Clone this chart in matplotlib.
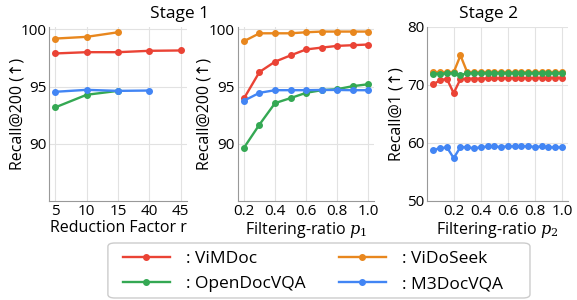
import matplotlib
matplotlib.use('Agg')
import matplotlib.pyplot as plt
from matplotlib.patches import FancyBboxPatch

plt.rcParams['font.family'] = ['Open Sans', 'DejaVu Sans']
plt.rcParams['mathtext.fontset'] = 'dejavuserif'

# panel 1: reduction factor r
r_labels = ['5', '10', '15', '40', '45']
r_vimdoc = [97.89, 98.0, 98.0, 98.12, 98.15]
r_vidoseek = [99.19, 99.34, 99.74]
r_opendoc = [93.18, 94.28, 94.62]
r_m3doc = [94.54, 94.71, 94.62, 94.65]

# panel 2: filtering ratio p1
p1 = [0.2, 0.3, 0.4, 0.5, 0.6, 0.7, 0.8, 0.9, 1.0]
p1_vimdoc = [93.96, 96.27, 97.17, 97.72, 98.24, 98.4, 98.55, 98.61, 98.67]
p1_vidoseek = [98.96, 99.65, 99.65, 99.65, 99.74, 99.8, 99.8, 99.8, 99.8]
p1_opendoc = [89.65, 91.68, 93.55, 93.99, 94.45, 94.68, 94.77, 95.03, 95.2]
p1_m3doc = [93.76, 94.45, 94.68, 94.68, 94.68, 94.7, 94.7, 94.68, 94.68]

# panel 3: filtering ratio p2
p2 = [0.05, 0.1, 0.15, 0.2, 0.25, 0.3, 0.35, 0.4, 0.45, 0.5,
      0.55, 0.6, 0.65, 0.7, 0.75, 0.8, 0.85, 0.9, 0.95, 1.0]
p2_vimdoc = [70.1, 70.86, 71.03, 68.6, 71.03, 71.1, 71.1, 71.1, 71.15, 71.15,
             71.15, 71.2, 71.2, 71.2, 71.2, 71.2, 71.25, 71.25, 71.25, 71.26]
p2_vidoseek = [72.2, 72.2, 72.2, 72.2, 75.1, 72.2, 72.2, 72.2, 72.2, 72.2,
               72.2, 72.2, 72.2, 72.2, 72.2, 72.2, 72.2, 72.2, 72.2, 72.2]
p2_opendoc = [71.95, 71.95, 72.0, 72.05, 71.7, 72.05, 72.05, 72.05, 72.05, 72.05,
              72.05, 72.05, 72.05, 72.05, 72.05, 72.05, 72.05, 72.05, 72.05, 72.05]
p2_m3doc = [58.85, 59.08, 59.25, 57.4, 59.3, 59.25, 59.1, 59.25, 59.4, 59.4,
            59.3, 59.45, 59.4, 59.4, 59.45, 59.3, 59.4, 59.25, 59.25, 59.25]

names = ['ViMDoc', 'OpenDocVQA', 'ViDoSeek', 'M3DocVQA']
colors = {'ViMDoc': '#ea4335', 'ViDoSeek': '#e8871e',
          'OpenDocVQA': '#34a853', 'M3DocVQA': '#4285f4'}

fig = plt.figure(figsize=(5.77, 3.0), dpi=100)
ax1 = fig.add_axes([0.085, 0.33, 0.239, 0.58])
ax2 = fig.add_axes([0.412, 0.33, 0.237, 0.58])
ax3 = fig.add_axes([0.740, 0.33, 0.245, 0.58])

kw = dict(marker='o', markersize=4, linewidth=1.7)
lab_fs = 11.5

pos = list(range(len(r_labels)))
ax1.plot(pos[:len(r_vimdoc)], r_vimdoc, color=colors['ViMDoc'], **kw)
ax1.plot(pos[:len(r_vidoseek)], r_vidoseek, color=colors['ViDoSeek'], **kw)
ax1.plot(pos[:len(r_opendoc)], r_opendoc, color=colors['OpenDocVQA'], **kw)
ax1.plot(pos[:len(r_m3doc)], r_m3doc, color=colors['M3DocVQA'], **kw)
ax1.set_xticks(pos)
ax1.set_xticklabels(r_labels)
ax1.set_ylim(85, 100.2)
ax1.set_yticks([90, 95, 100])
ax1.set_xlabel('Reduction Factor r', fontsize=lab_fs, labelpad=1)
ax1.set_ylabel('Recall@200 (↑)', fontsize=lab_fs)
ax1.yaxis.set_label_coords(-0.174, 0.5)

lines = {}
for name, ys in [('ViMDoc', p1_vimdoc), ('ViDoSeek', p1_vidoseek),
                 ('OpenDocVQA', p1_opendoc), ('M3DocVQA', p1_m3doc)]:
    lines[name], = ax2.plot(p1, ys, color=colors[name], **kw)
ax2.set_ylim(85, 100.2)
ax2.set_yticks([90, 95, 100])
ax2.set_xticks([0.2, 0.4, 0.6, 0.8, 1.0])
ax2.set_xlabel('Filtering-ratio $p_1$', fontsize=lab_fs, labelpad=1)
ax2.set_ylabel('Recall@200 (↑)', fontsize=lab_fs)
ax2.yaxis.set_label_coords(-0.187, 0.5)

for name, ys in [('ViMDoc', p2_vimdoc), ('ViDoSeek', p2_vidoseek),
                 ('OpenDocVQA', p2_opendoc), ('M3DocVQA', p2_m3doc)]:
    ax3.plot(p2, ys, color=colors[name], **kw)
ax3.set_ylim(50, 80)
ax3.set_yticks([50, 60, 70, 80])
ax3.set_xticks([0.2, 0.4, 0.6, 0.8, 1.0])
ax3.set_xlabel('Filtering-ratio $p_2$', fontsize=lab_fs, labelpad=1)
ax3.set_ylabel('Recall@1 (↑)', fontsize=lab_fs)
ax3.yaxis.set_label_coords(-0.156, 0.5)

for ax in (ax1, ax2, ax3):
    ax.grid(True, color='#e2e2e2', linewidth=0.8)
    ax.set_axisbelow(True)
    for s in ('top', 'right'):
        ax.spines[s].set_visible(False)
    for s in ('left', 'bottom'):
        ax.spines[s].set_color('#999999')
    ax.tick_params(labelsize=11, length=0, pad=2)

fig.text(0.312, 0.955, 'Stage 1', ha='center', va='center', fontsize=12.5)
fig.text(0.8475, 0.955, 'Stage 2', ha='center', va='center', fontsize=12.5)

# legend frame drawn separately so the box can be wider than its contents
frame = FancyBboxPatch((0.187, 0.0067), 0.7315, 0.1833,
                       boxstyle='round,pad=0,rounding_size=0.012',
                       transform=fig.transFigure, facecolor='white',
                       edgecolor='#cccccc', linewidth=1.0)
fig.patches.append(frame)

fig.legend([lines[n] for n in names], [': ' + n for n in names],
           ncol=2, loc='upper left', bbox_to_anchor=(0.213, 0.165),
           fontsize=12.5, handlelength=2.7, handletextpad=0.95,
           columnspacing=1.9, frameon=False, borderpad=0,
           labelspacing=0.55, borderaxespad=0)

fig.savefig('out.png', dpi=100)
